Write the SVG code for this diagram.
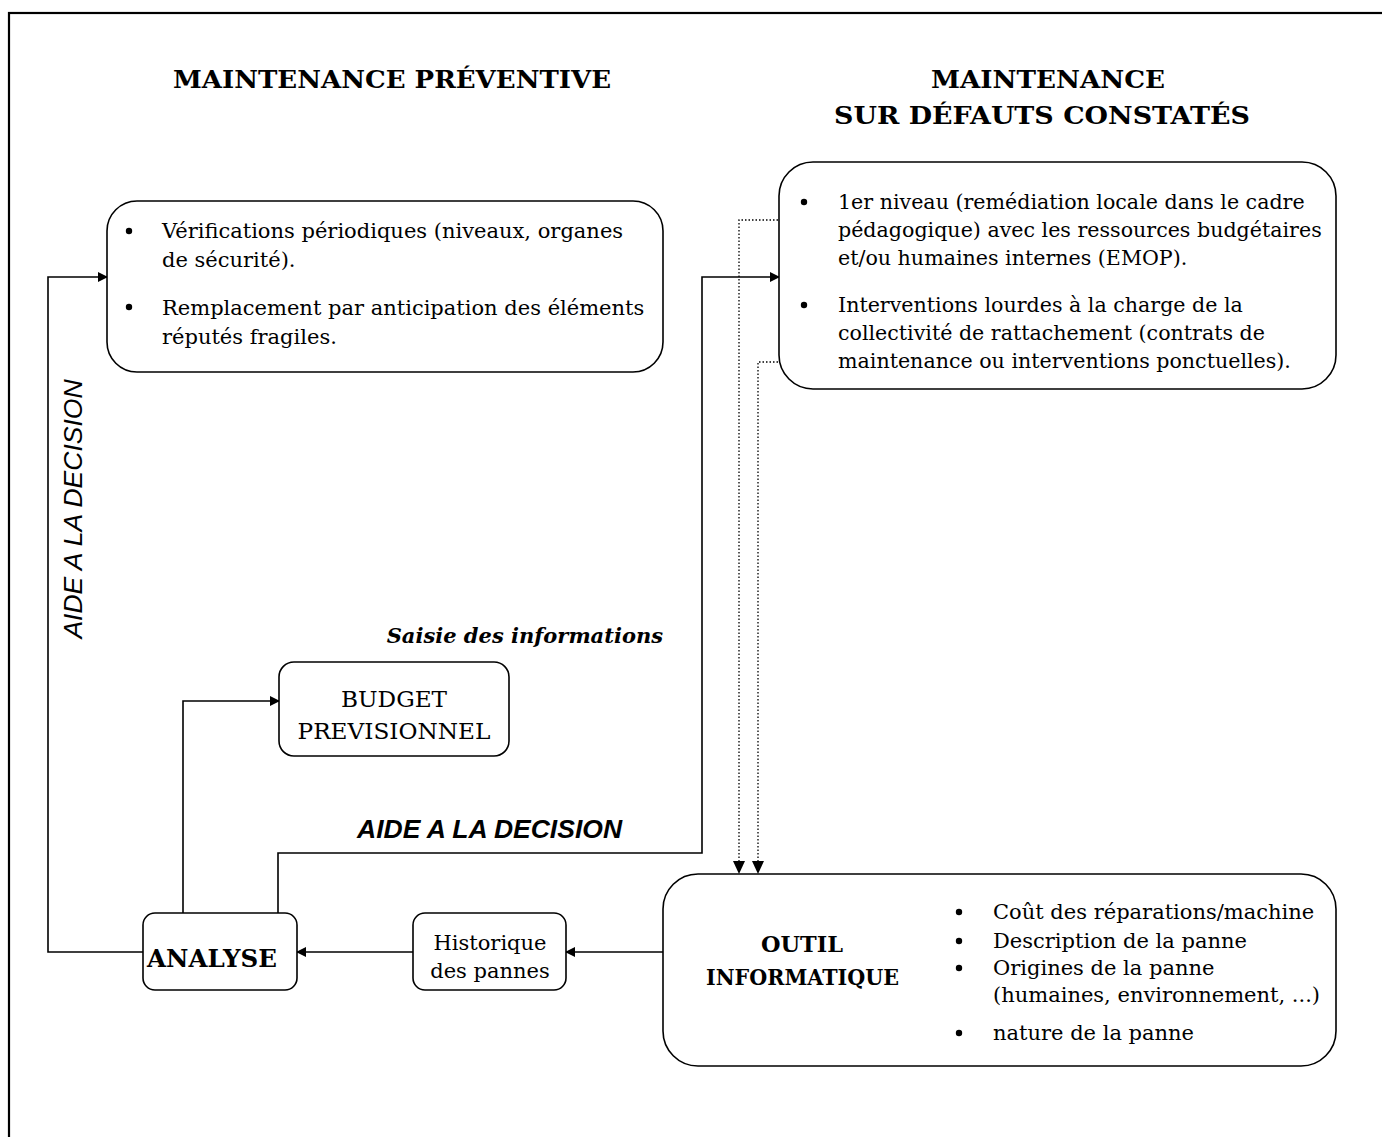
<svg xmlns="http://www.w3.org/2000/svg" width="1382" height="1137" viewBox="0 0 1382 1137">
<style>
.box{fill:#fff;stroke:#000;stroke-width:1.6}
.t{font-family:"DejaVu Serif","Liberation Serif",serif;font-size:21px;fill:#000}
.t2{font-family:"DejaVu Serif","Liberation Serif",serif;font-size:20.6px;fill:#000}
.t3{font-family:"DejaVu Serif","Liberation Serif",serif;font-size:23.2px;fill:#000}
.title{font-family:"DejaVu Serif","Liberation Serif",serif;font-size:25px;font-weight:bold;fill:#000}
.title2{font-family:"DejaVu Serif","Liberation Serif",serif;font-size:23px;font-weight:bold;fill:#000}
.ln{fill:none;stroke:#000;stroke-width:1.6}
.dot{fill:none;stroke:#000;stroke-width:1.3;stroke-dasharray:1.5 2}
.sans{font-family:"Liberation Sans",Arial,sans-serif;font-style:italic;font-size:26.5px;fill:#000}
</style>
<defs>
<marker id="ah" markerWidth="10" markerHeight="10" refX="9" refY="5" orient="auto" markerUnits="userSpaceOnUse">
<path d="M0,0 L10,5 L0,10 z" fill="#000"/>
</marker>
<marker id="ahd" markerWidth="14" markerHeight="12" refX="13" refY="6" orient="auto" markerUnits="userSpaceOnUse">
<path d="M0,0 L13,6 L0,12 z" fill="#000"/>
</marker>
</defs>
<rect width="1382" height="1137" fill="#fff"/>
<rect x="9" y="13" width="1400" height="1200" fill="none" stroke="#000" stroke-width="2.2"/>

<g id="titles">
<text class="title" x="173" y="88" textLength="438" lengthAdjust="spacingAndGlyphs">MAINTENANCE PRÉVENTIVE</text>
<text class="title" x="931" y="88" textLength="234" lengthAdjust="spacingAndGlyphs">MAINTENANCE</text>
<text class="title" x="834" y="124" textLength="416" lengthAdjust="spacingAndGlyphs">SUR DÉFAUTS CONSTATÉS</text>
</g>

<g id="connectors">
<path class="ln" d="M143,952 H48 V277 H107" marker-end="url(#ah)"/>
<path class="ln" d="M183,913 V701 H279" marker-end="url(#ah)"/>
<path class="ln" d="M278,913 V853 H702 V277 H779" marker-end="url(#ah)"/>
<path class="ln" d="M413,952 H297" marker-end="url(#ah)"/>
<path class="ln" d="M663,952 H566" marker-end="url(#ah)"/>
<path class="dot" d="M778,220 H739 V874" marker-end="url(#ahd)"/>
<path class="dot" d="M778,362 H758 V874" marker-end="url(#ahd)"/>
</g>

<g id="preventive">
<rect class="box" x="107" y="201" width="556" height="171" rx="30"/>
<circle cx="129" cy="231" r="3.2"/>
<circle cx="129" cy="307" r="3.2"/>
<text class="t" x="162" y="238">Vérifications périodiques (niveaux, organes</text>
<text class="t" x="162" y="267">de sécurité).</text>
<text class="t" x="162" y="315">Remplacement par anticipation des éléments</text>
<text class="t" x="162" y="344">réputés fragiles.</text>
</g>

<g id="defauts">
<rect class="box" x="779" y="162" width="557" height="227" rx="34"/>
<circle cx="804" cy="202" r="3.2"/>
<circle cx="804" cy="305" r="3.2"/>
<text class="t2" x="838" y="209">1er niveau (remédiation locale dans le cadre</text>
<text class="t2" x="838" y="237">pédagogique) avec les ressources budgétaires</text>
<text class="t2" x="838" y="265">et/ou humaines internes (EMOP).</text>
<text class="t2" x="838" y="312">Interventions lourdes à la charge de la</text>
<text class="t2" x="838" y="340">collectivité de rattachement (contrats de</text>
<text class="t2" x="838" y="368">maintenance ou interventions ponctuelles).</text>
</g>

<g id="budget">
<rect class="box" x="279" y="662" width="230" height="94" rx="15"/>
<text class="t3" x="394" y="707" text-anchor="middle">BUDGET</text>
<text class="t3" x="394" y="739" text-anchor="middle">PREVISIONNEL</text>
</g>

<g id="analyse">
<rect class="box" x="143" y="913" width="154" height="77" rx="12"/>
<text class="title" x="147" y="967" textLength="130" lengthAdjust="spacingAndGlyphs">ANALYSE</text>
</g>

<g id="historique">
<rect class="box" x="413" y="913" width="153" height="77" rx="12"/>
<text class="t" x="490" y="950" text-anchor="middle">Historique</text>
<text class="t" x="490" y="978" text-anchor="middle">des pannes</text>
</g>

<g id="outil">
<rect class="box" x="663" y="874" width="673" height="192" rx="35"/>
<text class="title2" x="761" y="952" textLength="82" lengthAdjust="spacingAndGlyphs">OUTIL</text>
<text class="title2" x="706" y="985" textLength="193" lengthAdjust="spacingAndGlyphs">INFORMATIQUE</text>
<circle cx="959" cy="912" r="3.2"/>
<circle cx="959" cy="941" r="3.2"/>
<circle cx="959" cy="968" r="3.2"/>
<circle cx="959" cy="1033" r="3.2"/>
<text class="t" x="993" y="919">Coût des réparations/machine</text>
<text class="t" x="993" y="948">Description de la panne</text>
<text class="t" x="993" y="975">Origines de la panne</text>
<text class="t" x="993" y="1002">(humaines, environnement, ...)</text>
<text class="t" x="993" y="1040">nature de la panne</text>
</g>

<g id="labels">
<text class="t" x="663" y="643" text-anchor="end" font-weight="bold" font-style="italic">Saisie des informations</text>
<text class="sans" x="357" y="838" font-weight="bold">AIDE A LA DECISION</text>
<text class="sans" transform="translate(82,509) rotate(-90)" text-anchor="middle">AIDE A LA DECISION</text>
</g>
</svg>
